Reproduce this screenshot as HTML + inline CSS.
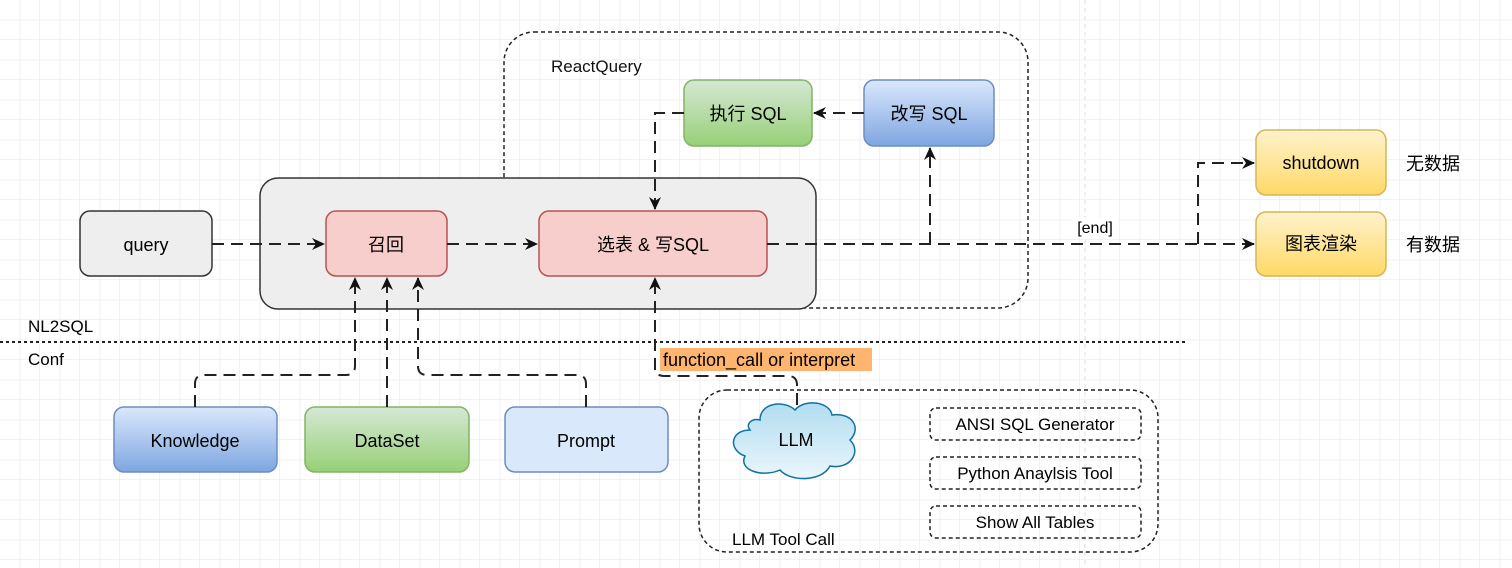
<!DOCTYPE html>
<html><head><meta charset="utf-8"><style>
html,body{margin:0;padding:0;background:#fff;}
svg{display:block;font-family:"Liberation Sans","Noto Sans CJK SC",sans-serif;}
</style></head><body>
<svg width="1512" height="568" viewBox="0 0 1512 568" xmlns="http://www.w3.org/2000/svg">
<defs>
<pattern id="g" width="40" height="40" patternUnits="userSpaceOnUse"><path d="M40 0V40H0" fill="none" stroke="#e4e4e4" stroke-width="1"/><path d="M20 0V40M0 20H40" fill="none" stroke="#f0f0f0" stroke-width="1"/></pattern>
<linearGradient id="gr" x1="0" y1="0" x2="0" y2="1"><stop offset="0" stop-color="#d5e8d4"/><stop offset="1" stop-color="#97d077"/></linearGradient>
<linearGradient id="bl" x1="0" y1="0" x2="0" y2="1"><stop offset="0" stop-color="#dae8fc"/><stop offset="1" stop-color="#7ea6e0"/></linearGradient>
<linearGradient id="ye" x1="0" y1="0" x2="0" y2="1"><stop offset="0" stop-color="#fff2cc"/><stop offset="1" stop-color="#ffd966"/></linearGradient>
<linearGradient id="cl" x1="0" y1="0" x2="0" y2="1"><stop offset="0" stop-color="#b1ddf0"/><stop offset="1" stop-color="#eaf6fc"/></linearGradient>
<marker id="a" markerWidth="14" markerHeight="14" refX="12" refY="6" orient="auto" markerUnits="userSpaceOnUse"><path d="M0 0L13 6L0 12L4 6Z" fill="#111"/></marker>
</defs>
<rect width="1512" height="568" fill="url(#g)"/>
<line x1="1085" y1="0" x2="1085" y2="568" stroke="#ddd" stroke-dasharray="4 4"/>
<rect x="504" y="32" width="524" height="276" rx="30" fill="none" stroke="#222" stroke-width="1.5" stroke-dasharray="4 3"/>
<text x="551" y="72" font-size="17" fill="#111">ReactQuery</text>
<rect x="260" y="178" width="556" height="131" rx="18" fill="#eeeeee" stroke="#333" stroke-width="1.5"/>
<rect x="80" y="211" width="132" height="65" rx="10" fill="#eeeeee" stroke="#333" stroke-width="1.5"/>
<text x="146" y="251" font-size="18" text-anchor="middle">query</text>
<rect x="326" y="211" width="121" height="65" rx="10" fill="#f8cecc" stroke="#b85450" stroke-width="1.5"/>
<text x="386" y="251" font-size="18" text-anchor="middle">召回</text>
<rect x="539" y="211" width="228" height="65" rx="10" fill="#f8cecc" stroke="#b85450" stroke-width="1.5"/>
<text x="653" y="251" font-size="18" text-anchor="middle">选表 &amp; 写SQL</text>
<rect x="684" y="80" width="128" height="66" rx="10" fill="url(#gr)" stroke="#82b366" stroke-width="1.5"/>
<text x="748" y="120" font-size="18" text-anchor="middle">执行 SQL</text>
<rect x="864" y="80" width="130" height="66" rx="10" fill="url(#bl)" stroke="#6c8ebf" stroke-width="1.5"/>
<text x="929" y="120" font-size="18" text-anchor="middle">改写 SQL</text>
<rect x="1256" y="130" width="130" height="65" rx="10" fill="url(#ye)" stroke="#d6b656" stroke-width="1.5"/>
<text x="1321" y="169" font-size="18" text-anchor="middle">shutdown</text>
<rect x="1256" y="212" width="130" height="64" rx="10" fill="url(#ye)" stroke="#d6b656" stroke-width="1.5"/>
<text x="1321" y="250" font-size="18" text-anchor="middle">图表渲染</text>
<text x="1406" y="170" font-size="18">无数据</text>
<text x="1406" y="251" font-size="18">有数据</text>
<line x1="0" y1="342" x2="1185" y2="342" stroke="#222" stroke-width="2" stroke-dasharray="3 3"/>
<text x="28" y="332" font-size="17">NL2SQL</text>
<text x="28" y="365" font-size="17">Conf</text>
<rect x="114" y="407" width="163" height="65" rx="10" fill="url(#bl)" stroke="#6c8ebf" stroke-width="1.5"/>
<text x="195" y="447" font-size="18" text-anchor="middle">Knowledge</text>
<rect x="305" y="407" width="164" height="65" rx="10" fill="url(#gr)" stroke="#82b366" stroke-width="1.5"/>
<text x="387" y="447" font-size="18" text-anchor="middle">DataSet</text>
<rect x="505" y="407" width="163" height="65" rx="10" fill="#dae8fc" stroke="#6c8ebf" stroke-width="1.5"/>
<text x="586" y="447" font-size="18" text-anchor="middle">Prompt</text>
<rect x="699" y="390" width="459" height="162" rx="28" fill="none" stroke="#222" stroke-width="1.5" stroke-dasharray="4 3"/>
<text x="732" y="545" font-size="17">LLM Tool Call</text>
<path d="M760 420 C760 402 785 400 795 410 C805 398 830 402 832 415 C852 412 862 428 850 440 C862 452 850 470 830 466 C822 482 790 482 780 470 C762 478 738 470 745 456 C728 450 730 430 750 430 C745 424 752 418 760 420Z" fill="url(#cl)" stroke="#10739e" stroke-width="1.5"/>
<text x="796" y="446" font-size="18" text-anchor="middle">LLM</text>
<g fill="none" stroke="#222" stroke-width="1.5" stroke-dasharray="4 3">
<rect x="930" y="408" width="211" height="32" rx="6"/>
<rect x="930" y="457" width="211" height="32" rx="6"/>
<rect x="930" y="506" width="211" height="32" rx="6"/>
</g>
<text x="1035" y="430" font-size="17" text-anchor="middle">ANSI SQL Generator</text>
<text x="1035" y="479" font-size="17" text-anchor="middle">Python Anaylsis Tool</text>
<text x="1035" y="528" font-size="17" text-anchor="middle">Show All Tables</text>
<g fill="none" stroke="#222" stroke-width="2" stroke-dasharray="12 7">
<path d="M212 244H324" marker-end="url(#a)"/>
<path d="M447 244H537" marker-end="url(#a)"/>
<path d="M767 244H1254" marker-end="url(#a)"/>
<path d="M1198 244V163H1254" marker-end="url(#a)"/>
<path d="M930 244V148" marker-end="url(#a)"/>
<path d="M864 113H814" marker-end="url(#a)"/>
<path d="M684 113H655V209" marker-end="url(#a)"/>
<path d="M655 370V278" marker-end="url(#a)"/>
<path d="M797 405V385Q797 376 788 376H664Q655 376 655 367"/>
<path d="M195 407V384Q195 375 204 375H346Q355 375 355 366V278" marker-end="url(#a)"/>
<path d="M387 407V278" marker-end="url(#a)"/>
<path d="M586 407V384Q586 375 577 375H427Q418 375 418 366V278" marker-end="url(#a)"/>
</g>
<rect x="1072" y="218" width="46" height="20" fill="#fff"/>
<text x="1095" y="233" font-size="16" text-anchor="middle">[end]</text>
<rect x="660" y="348" width="212" height="23" fill="#ffb570"/>
<text x="663" y="366" font-size="18">function_call or interpret</text>
</svg>
</body></html>
